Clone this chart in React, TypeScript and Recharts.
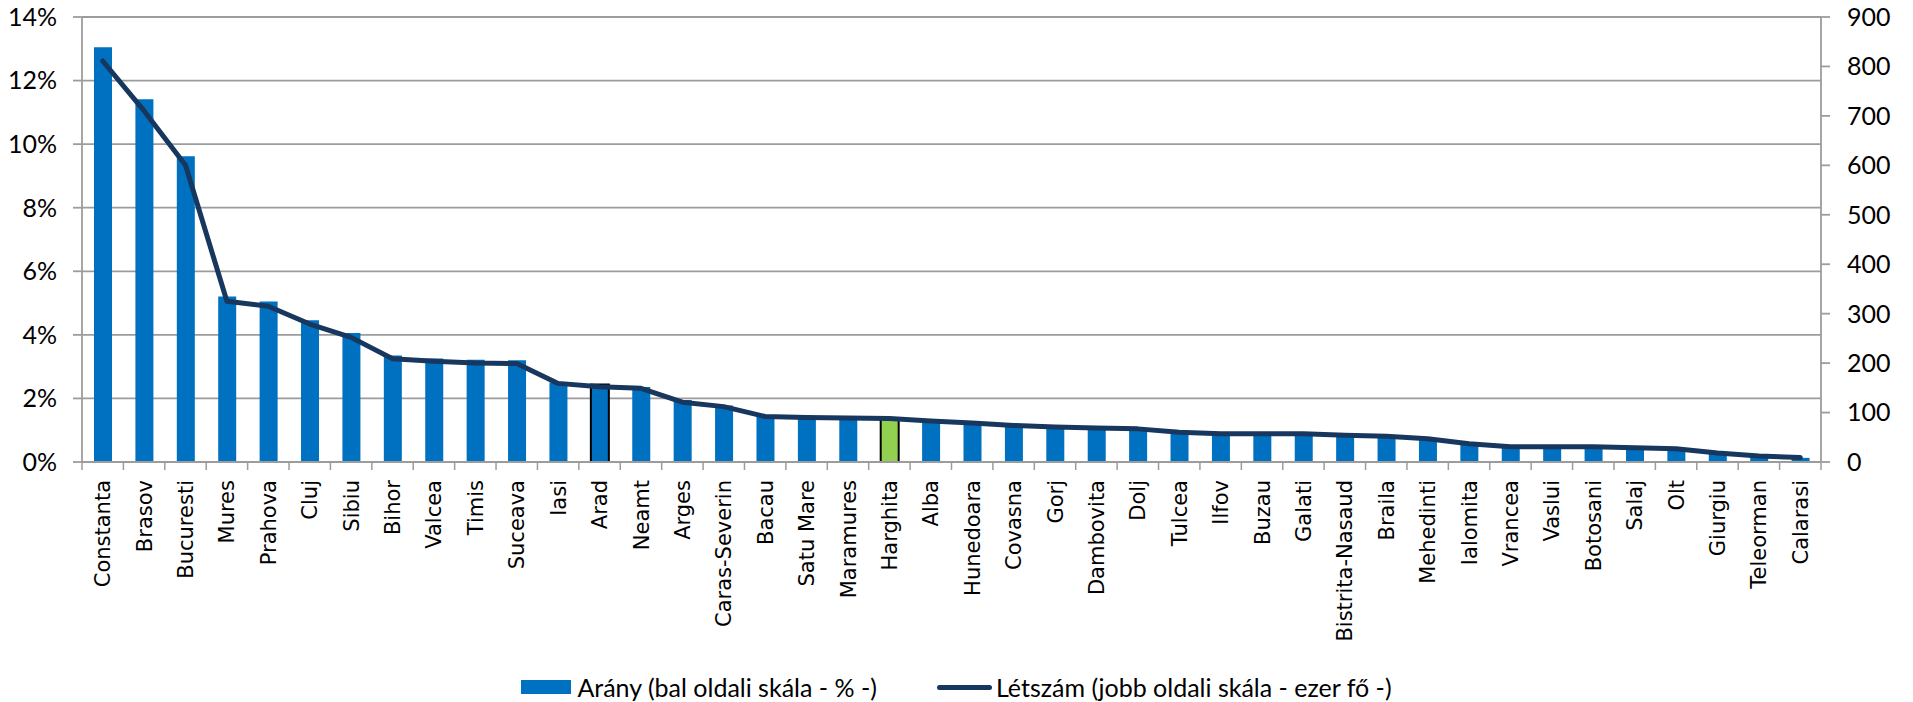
import React from "react";
import {
  ComposedChart,
  Bar,
  Line,
  XAxis,
  YAxis,
  CartesianGrid,
  Legend,
  Cell,
} from "recharts";

const counties = [
  "Constanta", "Brasov", "Bucuresti", "Mures", "Prahova", "Cluj", "Sibiu",
  "Bihor", "Valcea", "Timis", "Suceava", "Iasi", "Arad", "Neamt", "Arges",
  "Caras-Severin", "Bacau", "Satu Mare", "Maramures", "Harghita", "Alba",
  "Hunedoara", "Covasna", "Gorj", "Dambovita", "Dolj", "Tulcea", "Ilfov",
  "Buzau", "Galati", "Bistrita-Nasaud", "Braila", "Mehedinti", "Ialomita",
  "Vrancea", "Vaslui", "Botosani", "Salaj", "Olt", "Giurgiu", "Teleorman",
  "Calarasi",
];

const aranyPct = [
  13.05, 11.41, 9.62, 5.21, 5.05, 4.46, 4.06, 3.35, 3.26, 3.22, 3.2, 2.5,
  2.44, 2.36, 1.95, 1.78, 1.45, 1.4, 1.38, 1.38, 1.3, 1.21, 1.12, 1.06, 1.04,
  1.02, 0.92, 0.9, 0.88, 0.86, 0.81, 0.79, 0.7, 0.54, 0.45, 0.45, 0.44, 0.41,
  0.36, 0.25, 0.17, 0.13,
];

const letszam = [
  811, 710, 600, 325, 315, 279, 252, 209, 204, 200, 199, 159, 152, 149, 121,
  112, 92, 90, 89, 88, 83, 79, 74, 71, 69, 67, 60, 57, 57, 57, 54, 52, 47, 37,
  31, 31, 31, 29, 27, 18, 12, 9,
];

const leftTicks = [0, 2, 4, 6, 8, 10, 12, 14];
const rightTicks = [0, 100, 200, 300, 400, 500, 600, 700, 800, 900];

const outlinedCounty = "Arad";
const greenCounty = "Harghita";

const barName = "Arány (bal oldali skála - % -)";
const lineName = "Létszám (jobb oldali skála - ezer fő -)";

const data = counties.map((name, i) => ({
  name,
  arany: aranyPct[i],
  letszam: letszam[i],
}));

const W = 1913;
const H = 702;
const LEFT_W = 82;
const RIGHT_W = 92;
const STEP = (W - LEFT_W - RIGHT_W) / counties.length;

const GRID = "#9c9c9c";
const BLUE = "#0070C0";
const NAVY = "#17375E";
const GREEN = "#92D050";

const XTick = (props: any) => {
  const { x, y, payload, index } = props;
  const half = STEP / 2;
  return (
    <g>
      <line x1={x - half} x2={x - half} y1={y - 8} y2={y} stroke={GRID} strokeWidth={1.5} />
      {index === counties.length - 1 && (
        <line x1={x + half} x2={x + half} y1={y - 8} y2={y} stroke={GRID} strokeWidth={1.5} />
      )}
      <text
        x={x}
        y={y + 10}
        transform={`rotate(-90, ${x}, ${y + 10})`}
        textAnchor="end"
        dy="0.36em"
        fontFamily="DejaVu Sans"
        fontSize={21}
        fill="#000"
      >
        {payload.value}
      </text>
    </g>
  );
};

const LegendContent = () => (
  <div
    style={{
      height: 30,
      display: "flex",
      justifyContent: "center",
      alignItems: "center",
      fontFamily: "Lato",
      fontSize: 25,
      color: "#000",
    }}
  >
    <div style={{ display: "flex", alignItems: "center" }}>
      <span style={{ display: "inline-block", width: 50, height: 14, background: BLUE, marginRight: 6 }} />
      <span>{barName}</span>
    </div>
    <div style={{ display: "flex", alignItems: "center", marginLeft: 60 }}>
      <span
        style={{
          display: "inline-block",
          width: 55,
          height: 5,
          borderRadius: 3,
          background: NAVY,
          marginRight: 4,
        }}
      />
      <span>{lineName}</span>
    </div>
  </div>
);

export default function App() {
  return (
    <div style={{ position: "absolute", left: 0, top: 0, width: W, height: H, background: "#fff" }}>
      <ComposedChart
        width={W}
        height={H}
        data={data}
        margin={{ top: 17, right: 0, bottom: 0, left: 0 }}
        barCategoryGap={0}
      >
        <CartesianGrid
          yAxisId="left"
          vertical={false}
          stroke={GRID}
          strokeWidth={1.8}
        />
        <XAxis
          dataKey="name"
          interval={0}
          height={210}
          tickLine={false}
          tickSize={8}
          tickMargin={0}
          axisLine={{ stroke: GRID, strokeWidth: 1.8 }}
          tick={<XTick />}
        />
        <YAxis
          yAxisId="left"
          orientation="left"
          width={LEFT_W}
          domain={[0, 14]}
          ticks={leftTicks}
          interval={0}
          tickFormatter={(v: number) => `${v}%`}
          axisLine={{ stroke: GRID, strokeWidth: 1.8 }}
          tickLine={{ stroke: GRID, strokeWidth: 1.8 }}
          tickSize={9}
          tickMargin={16}
          tick={{ fontFamily: "Lato", fontSize: 25, fill: "#000" }}
        />
        <YAxis
          yAxisId="right"
          orientation="right"
          width={RIGHT_W}
          domain={[0, 900]}
          ticks={rightTicks}
          interval={0}
          axisLine={{ stroke: GRID, strokeWidth: 1.8 }}
          tickLine={{ stroke: GRID, strokeWidth: 1.8 }}
          tickSize={9}
          tickMargin={17}
          tick={{ fontFamily: "Lato", fontSize: 25, fill: "#000" }}
        />
        <Legend verticalAlign="bottom" content={<LegendContent />} />
        <Bar
          yAxisId="left"
          dataKey="arany"
          name={barName}
          barSize={18}
          fill={BLUE}
          isAnimationActive={false}
        >
          {data.map((d) => (
            <Cell
              key={d.name}
              fill={d.name === greenCounty ? GREEN : BLUE}
              stroke={d.name === outlinedCounty || d.name === greenCounty ? "#000" : "none"}
              strokeWidth={d.name === outlinedCounty || d.name === greenCounty ? 2 : 0}
            />
          ))}
        </Bar>
        <Line
          yAxisId="right"
          type="linear"
          dataKey="letszam"
          name={lineName}
          stroke={NAVY}
          strokeWidth={5}
          strokeLinecap="round"
          strokeLinejoin="round"
          dot={false}
          activeDot={false}
          isAnimationActive={false}
        />
      </ComposedChart>
    </div>
  );
}
